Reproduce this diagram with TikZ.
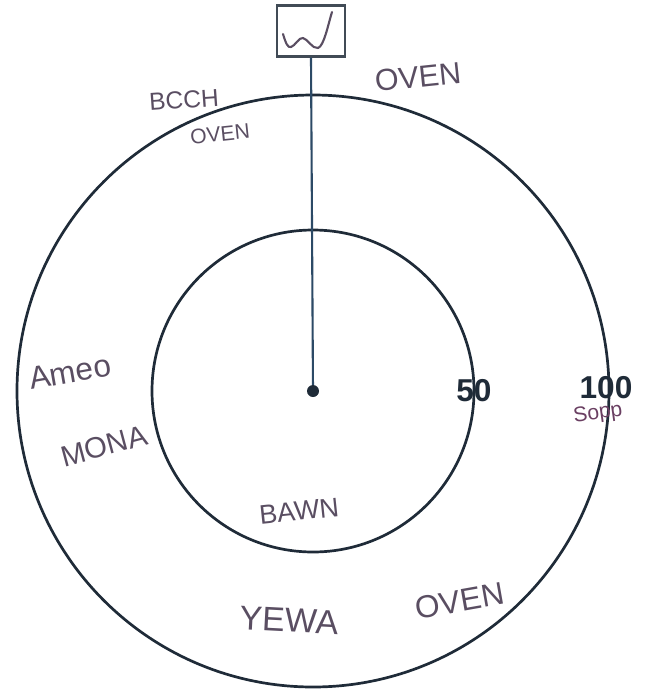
\documentclass[tikz,border=0pt]{standalone}
\usepackage{fontspec}
\setmainfont{Liberation Sans}
\definecolor{ink}{HTML}{1F2B38}
\definecolor{pen}{HTML}{5A4E62}
\definecolor{plum}{HTML}{6A3F62}
\definecolor{stem}{HTML}{2C4A66}
\tikzset{
  ring/.style={draw=ink, line width=2.3pt},
  hand/.style={text=pen, inner sep=1pt, font=\fontsize{24}{28}\selectfont},
  scale label/.style={text=ink, font=\fontsize{27}{30}\selectfont\bfseries}
}
\begin{document}
\begin{tikzpicture}[x=0.03cm, y=-0.03cm]
\useasboundingbox (0,0) rectangle (646,689);
% the two rings
\draw[ring] (313,391) circle (296);
\draw[ring] (313,391) circle (161);

% box on top with its sketch
\node[draw=ink!85, line width=2pt, minimum width=68*0.03cm, minimum height=51*0.03cm, inner sep=0pt] (box) at (311,31) {};
\draw[pen, line width=1.8pt, line cap=round, line join=round]
  (283,34) .. controls (286,44) and (288,48) .. (291,47)
  .. controls (295,46) and (299,37) .. (303,38)
  .. controls (308,39) and (312,49) .. (318,48)
  .. controls (324,46) and (328,25) .. (332,12);

% centre and the stem
\node[circle, fill=ink, inner sep=0pt, minimum size=12*0.03cm] (ctr) at (313,391) {};
\draw[stem, line width=1.8pt] (box.south) -- (ctr);

% numbers on the scale
\node[scale label] (fifty) at (474,391) {50};
\node[scale label] (hundred) at (606,388) {100};
\node[text=plum, inner sep=1pt, font=\fontsize{18}{20}\selectfont, rotate=8] (sopp) at (598,414) {Sopp};

% handwritten words
\node[hand, font=\fontsize{21}{24}\selectfont, rotate=4] (bcch) at (184,100) {BCCH};
\node[hand, font=\fontsize{18}{20}\selectfont, rotate=6] (ovenA) at (220,134) {OVEN};
\node[hand, font=\fontsize{26}{28}\selectfont, rotate=6] (ovenB) at (418,77) {OVEN};
\node[hand, font=\fontsize{27}{30}\selectfont, rotate=10] (ameo) at (70,372) {Ameo};
\node[hand, font=\fontsize{25}{28}\selectfont, rotate=15] (mona) at (104,446) {MONA};
\node[hand, font=\fontsize{23}{26}\selectfont, rotate=6] (bawn) at (299,511) {BAWN};
\node[hand, font=\fontsize{29}{32}\selectfont, rotate=-3] (yewa) at (289,620) {YEWA};
\node[hand, font=\fontsize{27}{30}\selectfont, rotate=10] (ovenC) at (460,601) {OVEN};
\end{tikzpicture}
\end{document}
